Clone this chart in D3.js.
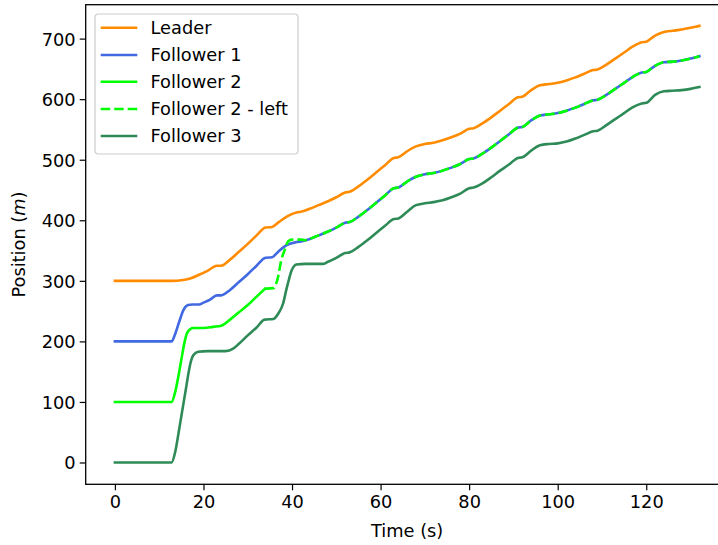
<!DOCTYPE html>
<html>
<head>
<meta charset="utf-8">
<script src="https://cdn.jsdelivr.net/npm/d3@7"></script>
<style>
  html, body { margin: 0; padding: 0; background: #fff; }
  svg { display: block; }
  text { font-family: "DejaVu Sans", sans-serif; fill: #000; }
</style>
</head>
<body>
<svg id="chart" width="718" height="545"></svg>
<script>
// ---- data (time in s, position in m) ----
const leader = [
  [0,300],[13,300],[15,301],[17,304],[19,310],[21,317],[23,325],[24,325],[26,335],[28,348],
  [30,361],[32,375],[34,388],[35.5,389],[37,397],[39,407],[41,413],[42,414],[44,419],[46,425],
  [48,431],[50,438],[52,446],[53,447],[55,456],[57,467],[59,479],[61,491],[63,503],[64,504],
  [66,514],[68,522],[70,526],[72,528],[74,532],[76,537],[78,543],[80,551],[81,552],[83,560],
  [85,570],[87,581],[89,592],[91,603],[92,604],[94,615],[96,623],[98,625],[100,627],[102,631],
  [104,636],[106,642],[108,648],[109,649],[111,657],[113,667],[115,677],[117,687],[119,694],[120,695],
  [122,705],[124,711],[126,713],[128,715],[130,718],[132,721]
];
const follower1 = [
  [0,200],[12.8,200],[13.5,210],[14.5,232],[15.5,252],[16.5,260],[17.5,261],[19,261],[20,264],[21.5,269],
  [23,276],[24,276],[26,285],[28,298],[30,311],[32,325],[34,338],[35.5,339],[37,349],[38.8,359],
  [41,364],[42,365],[44,369],[46,375],[48,381],[50,388],[52,396],[53,397],[55,406],[57,417],
  [59,429],[61,441],[63,453],[64,454],[66,464],[68,472],[70,476],[72,478],[74,482],[76,487],
  [78,493],[80,501],[81,502],[83,510],[85,520],[87,531],[89,542],[91,553],[92,554],[94,565],
  [96,573],[98,575],[100,577],[102,581],[104,586],[106,592],[108,598],[109,599],[111,607],[113,617],
  [115,627],[117,637],[119,644],[120,645],[122,655],[124,661],[126,662],[128,664],[130,667],[132,671]
];
const follower2 = [
  [0,100],[12.8,100],[13.6,116],[14.4,145],[15.1,174],[15.7,198],[16.3,214],[17,220],[17.7,222],[20,222],
  [22.2,224],[24,226],[26,236],[28,248],[30,260],[32,274],[33.9,287]
];
const follower2Left = [
  [33.9,287],[35.8,288],[36.8,305],[37.6,335],[38.4,352],[39.1,365],[40,368],[42,368],[43.5,367],[44,369],
  [46,375],[48,381],[50,388],[52,396],[53,397],[55,406],[57,417],[59,429],[61,441],[63,453],
  [64,454],[66,464],[68,472],[70,476],[72,478],[74,482],[76,487],[78,493],[80,501],[81,502],
  [83,510],[85,520],[87,531],[89,542],[91,553],[92,554],[94,565],[96,573],[98,575],[100,577],
  [102,581],[104,586],[106,592],[108,598],[109,599],[111,607],[113,617],[115,627],[117,637],[119,644],
  [120,645],[122,655],[124,661],[126,662],[128,664],[130,667],[132,671]
];
const follower3 = [
  [0,0],[12.8,0],[13.6,17],[14.4,50],[15.1,81],[16,120],[16.6,147],[17.2,168],[17.7,177],[18.8,183],
  [21,184],[25,184],[26.7,188],[28,196],[30,210],[32,223],[33.8,236],[35.8,237],[36.9,246],[38,263],
  [38.7,285],[39.4,305],[39.9,317],[41,327],[43,328],[47,328],[48,331],[50,338],[52,346],[53,347],
  [55,356],[57,367],[59,379],[61,391],[63,402],[64,403],[66,414],[68,425],[70,428],[72,430],
  [74,433],[76,438],[78,444],[80,453],[81,454],[83,461],[85,471],[87,482],[89,492],[91,503],
  [92,504],[94,515],[96,524],[98,526],[100,527],[102,530],[104,535],[106,541],[108,547],[109,548],
  [111,557],[113,567],[115,577],[117,587],[119,593],[120,594],[122,607],[124,613],[126,614],[128,615],
  [130,617],[132,620]
];
const seriesNames = ["Leader", "Follower 1", "Follower 2", "Follower 2 - left", "Follower 3"];
const xTicks = [0, 20, 40, 60, 80, 100, 120];
const yTicks = [0, 100, 200, 300, 400, 500, 600, 700];

// ---- layout ----
const svg = d3.select("#chart");
const plot = { left: 85.7, right: 728.6, top: 4.7, bottom: 484.3 };
const x = d3.scaleLinear().domain([-6.6, 138.6]).range([plot.left, plot.right]);
const y = d3.scaleLinear().domain([-36, 756]).range([plot.bottom, plot.top]);

const styles = [
  { data: leader,        color: "#ff8c00", dash: null },
  { data: follower1,     color: "#4169e1", dash: null },
  { data: follower2,     color: "#00ff00", dash: null },
  { data: follower2Left, color: "#00ff00", dash: "9.5,4" },
  { data: follower3,     color: "#2e8b57", dash: null }
];

const line = d3.line().x(d => x(d[0])).y(d => y(d[1])).curve(d3.curveMonotoneX);

svg.append("defs").append("clipPath").attr("id", "clip")
  .append("rect").attr("x", plot.left).attr("y", plot.top)
  .attr("width", plot.right - plot.left).attr("height", plot.bottom - plot.top);

const lines = svg.append("g").attr("clip-path", "url(#clip)");
styles.forEach(s => {
  lines.append("path")
    .attr("d", line(s.data))
    .attr("fill", "none")
    .attr("stroke", s.color)
    .attr("stroke-width", 2.6)
    .attr("stroke-linejoin", "round")
    .attr("stroke-linecap", s.dash ? "butt" : "square")
    .attr("stroke-dasharray", s.dash);
});

// ---- axes ----
const fs = 17.8;
const xAxis = d3.axisBottom(x).tickValues(xTicks).tickSize(6).tickPadding(5).tickFormat(d3.format("d"));
const yAxis = d3.axisLeft(y).tickValues(yTicks).tickSize(6).tickPadding(4).tickFormat(d3.format("d"));

const gx = svg.append("g").attr("transform", `translate(0,${plot.bottom})`).call(xAxis);
const gy = svg.append("g").attr("transform", `translate(${plot.left},0)`).call(yAxis);
[gx, gy].forEach(g => {
  g.select(".domain").remove();
  g.selectAll(".tick line").attr("stroke", "#000").attr("stroke-width", 1.2);
  g.selectAll(".tick text").attr("font-size", fs).attr("font-family", "DejaVu Sans").attr("fill", "#000");
});
gx.selectAll(".tick text").attr("dy", "0.71em");
gy.selectAll(".tick text").attr("dy", "0.36em");

// frame (spines)
svg.append("rect")
  .attr("x", plot.left).attr("y", plot.top)
  .attr("width", plot.right - plot.left).attr("height", plot.bottom - plot.top)
  .attr("fill", "none").attr("stroke", "#000").attr("stroke-width", 1.3);

// axis labels
svg.append("text")
  .attr("x", (plot.left + plot.right) / 2).attr("y", 537.3)
  .attr("text-anchor", "middle").attr("font-size", fs)
  .text("Time (s)");

const yl = svg.append("text")
  .attr("transform", `translate(25,${(plot.top + plot.bottom) / 2}) rotate(-90)`)
  .attr("text-anchor", "middle").attr("font-size", fs);
yl.append("tspan").text("Position (");
yl.append("tspan").attr("font-style", "italic").text("m");
yl.append("tspan").text(")");

// ---- legend ----
const lg = svg.append("g");
lg.append("rect")
  .attr("x", 95).attr("y", 14).attr("width", 203).attr("height", 140)
  .attr("rx", 3.5).attr("ry", 3.5)
  .attr("fill", "#fff").attr("fill-opacity", 0.8)
  .attr("stroke", "#cccccc").attr("stroke-width", 1.2);
const rowY = [27.7, 55, 81.7, 109, 136];
styles.forEach((s, i) => {
  lg.append("line")
    .attr("x1", 100.7).attr("x2", 137.3)
    .attr("y1", rowY[i]).attr("y2", rowY[i])
    .attr("stroke", s.color).attr("stroke-width", 2.6)
    .attr("stroke-dasharray", s.dash);
  lg.append("text")
    .attr("x", 150.5).attr("y", rowY[i]).attr("dy", "0.36em")
    .attr("font-size", fs)
    .text(seriesNames[i]);
});
</script>
</body>
</html>
